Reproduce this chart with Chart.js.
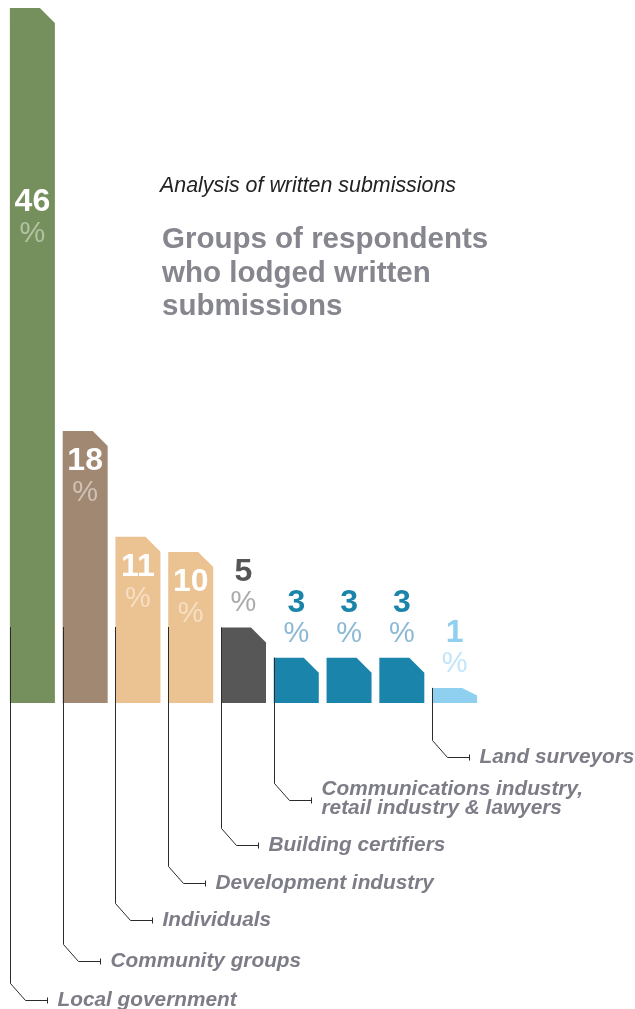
<!DOCTYPE html>
<html>
<head>
<meta charset="utf-8">
<script src="https://cdn.jsdelivr.net/npm/chart.js@4.4.1/dist/chart.umd.min.js"></script>
<style>
  body { margin: 0; background: #fff; }
  #wrap { position: relative; width: 635px; height: 1009px; }
  .kicker { position: absolute; left: 160px; top: 173px; line-height: 24px; font-family: "Liberation Sans", Arial, sans-serif;
      font-style: italic; font-size: 21.4px; color: #222; }
  .heading { position: absolute; left: 162px; top: 221px; font-family: "Liberation Sans", Arial, sans-serif;
      font-weight: bold; font-size: 29.5px; line-height: 33.5px; color: #86868e; }
</style>
</head>
<body>
<div id="wrap">
  <canvas id="chart" width="635" height="1009"></canvas>
  <div class="kicker">Analysis of written submissions</div>
  <div class="heading">Groups of respondents<br>who lodged written<br>submissions</div>
</div>
<script>
// share of written submissions (%)
const categories = ['Local government', 'Community groups', 'Individuals', 'Development industry',
    'Building certifiers', 'Communications industry', 'Retail industry', 'Lawyers', 'Land surveyors'];
const shares = [46, 18, 11, 10, 5, 3, 3, 3, 1];
// callout text, the three 3% groups share one callout
const callouts = [['Local government'], ['Community groups'], ['Individuals'], ['Development industry'],
    ['Building certifiers'], ['Communications industry,', 'retail industry & lawyers'], null, null, ['Land surveyors']];

const barColors = ['#758f5d', '#a08873', '#ebc291', '#ebc291', '#575757', '#1a84aa', '#1a84aa', '#1a84aa', '#8fcff0'];
const pctColors = ['#b3c2a3', '#cfc1b4', '#f6dfc4', '#f6dfc4', '#ababab', '#8cb9d3', '#8cb9d3', '#8cb9d3', '#c2e5f8'];
const numColors = ['#fff', '#fff', '#fff', '#fff', '#555555', '#1a84aa', '#1a84aa', '#1a84aa', '#8fcff0'];
// y of each callout line (canvas px)
const calloutY = [1000, 961, 920, 883, 845, 800, null, null, 757];

const FONT = '"Liberation Sans", Arial, sans-serif';

const chamferBars = {
    id: 'chamferBars',
    beforeDatasetsDraw(chart) {
        const ctx = chart.ctx;
        chart.getDatasetMeta(0).data.forEach((bar, i) => {
            const l = bar.x - bar.width / 2, r = bar.x + bar.width / 2;
            const h = bar.base - bar.y;
            const cw = 15, ch = Math.min(15, h / 2);
            ctx.save();
            ctx.fillStyle = barColors[i];
            ctx.beginPath();
            ctx.moveTo(l, bar.base);
            ctx.lineTo(l, bar.y);
            ctx.lineTo(r - cw, bar.y);
            ctx.lineTo(r, bar.y + ch);
            ctx.lineTo(r, bar.base);
            ctx.closePath();
            ctx.fill();
            ctx.restore();
        });
        // skip the default rectangles
        return false;
    },
    afterDraw(chart) {
        const ctx = chart.ctx;
        const area = chart.chartArea;
        chart.getDatasetMeta(0).data.forEach((bar, i) => {
            const v = shares[i];
            let numY, pctY;
            if (v >= 10) {
                numY = i === 0 ? bar.y + 194 : bar.y + 30;
                pctY = numY + 32;
            } else {
                numY = bar.y - 55;
                pctY = bar.y - 24;
            }
            ctx.save();
            ctx.textAlign = 'center';
            ctx.textBaseline = 'middle';
            ctx.font = 'bold 32px ' + FONT;
            ctx.fillStyle = numColors[i];
            ctx.fillText(String(v), bar.x, numY);
            ctx.font = '29px ' + FONT;
            ctx.fillStyle = pctColors[i];
            ctx.fillText('%', bar.x, pctY);
            ctx.restore();

            // callout lines
            if (!callouts[i]) return;
            const lx = Math.round(bar.x - bar.width / 2) + 0.5;
            const y0 = Math.max(bar.y, area.bottom - 76);
            const ly = calloutY[i] + 0.5;
            ctx.save();
            ctx.strokeStyle = '#2b2b2b';
            ctx.lineWidth = 1;
            ctx.beginPath();
            ctx.moveTo(lx, y0);
            ctx.lineTo(lx, ly - 17);
            ctx.lineTo(lx + 15, ly);
            ctx.lineTo(lx + 37, ly);
            ctx.moveTo(lx + 37, ly - 3);
            ctx.lineTo(lx + 37, ly + 3);
            ctx.stroke();
            ctx.font = 'italic bold 20.8px ' + FONT;
            ctx.fillStyle = '#7d7d87';
            ctx.textAlign = 'left';
            ctx.textBaseline = 'middle';
            const lines = callouts[i];
            if (lines.length === 1) {
                ctx.fillText(lines[0], lx + 47, ly);
            } else {
                ctx.fillText(lines[0], lx + 47, ly - 11);
                ctx.fillText(lines[1], lx + 47, ly + 8);
            }
            ctx.restore();
        });
    }
};

new Chart(document.getElementById('chart'), {
    type: 'bar',
    data: {
        labels: categories,
        datasets: [{
            data: shares,
            backgroundColor: barColors,
            barThickness: 45
        }]
    },
    options: {
        responsive: false,
        animation: false,
        layout: { padding: { top: 8, bottom: 306, left: 6, right: 154 } },
        scales: {
            x: { display: false },
            y: { display: false, min: 0, max: 46 }
        },
        plugins: {
            legend: { display: false },
            tooltip: { enabled: false }
        }
    },
    plugins: [chamferBars]
});
</script>
</body>
</html>
